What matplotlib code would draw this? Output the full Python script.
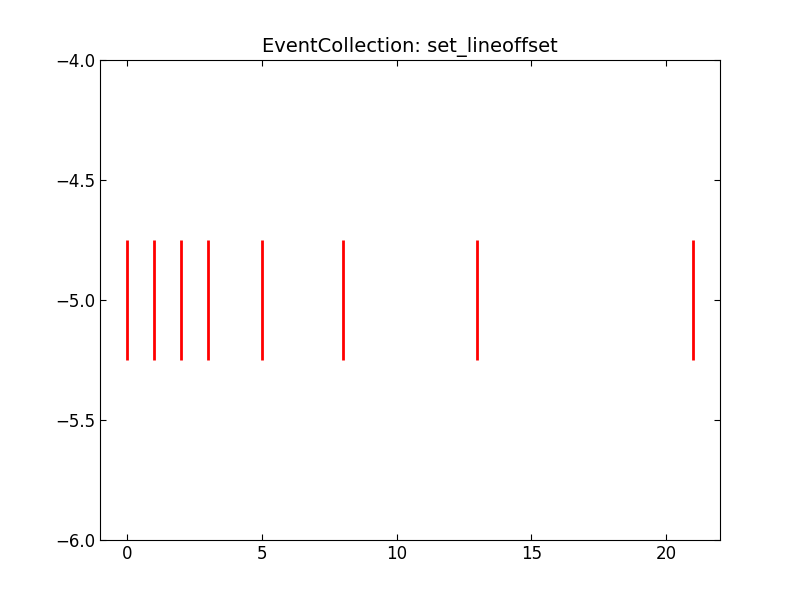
import matplotlib
matplotlib.use("Agg")
import matplotlib.pyplot as plt
from matplotlib.collections import EventCollection

positions = [0, 1, 2, 3, 5, 8, 13, 21]
offset = -5
length = 0.5
xticks = [0, 5, 10, 15, 20]
yticks = [-6.0, -5.5, -5.0, -4.5, -4.0]

plt.rcParams['font.size'] = 12
plt.rcParams['xtick.direction'] = 'in'
plt.rcParams['ytick.direction'] = 'in'
plt.rcParams['xtick.major.size'] = 4
plt.rcParams['ytick.major.size'] = 4

fig = plt.figure(figsize=(8, 6), dpi=100)
ax = fig.add_axes([0.125, 0.1, 0.775, 0.8])

coll = EventCollection(positions, orientation='horizontal', lineoffset=offset,
                       linelength=length, linewidth=2, color='red')
ax.add_collection(coll)

ax.set_xlim(-1, 22)
ax.set_ylim(-6, -4)
ax.set_xticks(xticks)
ax.set_yticks(yticks)
ax.tick_params(top=True, right=True)
ax.set_title('EventCollection: set_lineoffset', fontsize=14)

fig.savefig('out.png', dpi=100, facecolor='white')
